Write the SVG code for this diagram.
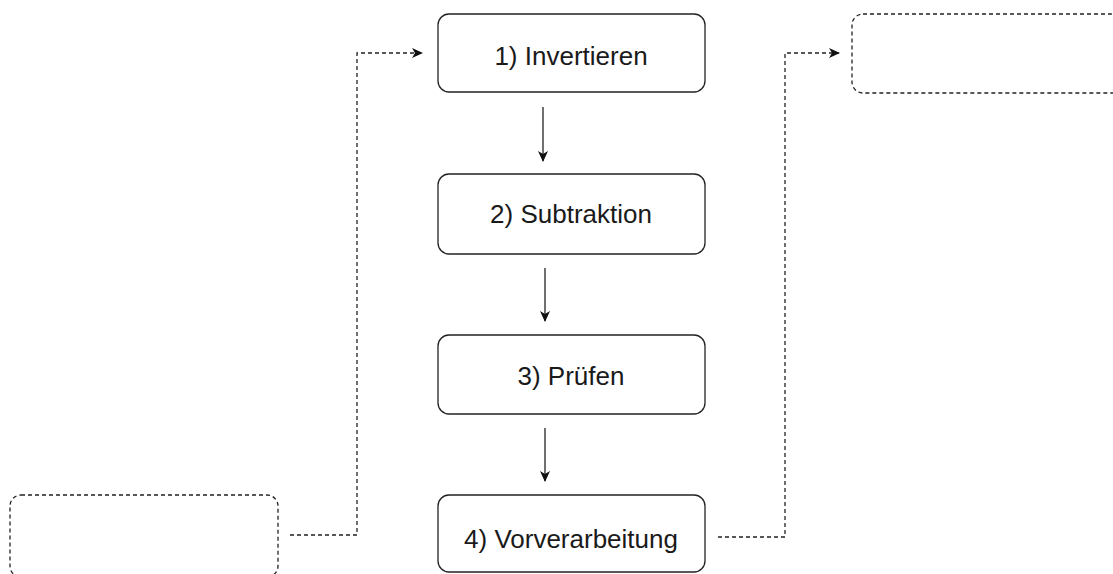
<svg xmlns="http://www.w3.org/2000/svg" width="1113" height="574" viewBox="0 0 1113 574">
<style>
.box{fill:#fff;stroke:#222;stroke-width:1.3}
.dbox{fill:#fff;stroke:#222;stroke-width:1.3;stroke-dasharray:4 3}
.lbl{font-family:"Liberation Sans",Arial,sans-serif;font-size:26px;fill:#1a1a1a;text-anchor:middle}
.arr{fill:none;stroke:#111;stroke-width:1.2}
.darr{fill:none;stroke:#222;stroke-width:1.3;stroke-dasharray:4 3}
</style>
<defs>
<marker id="ah" markerWidth="12" markerHeight="12" refX="10" refY="6" orient="auto" markerUnits="userSpaceOnUse">
<path d="M0,1 L11,6 L0,11 L3,6 Z" fill="#111"/>
</marker>
</defs>
<rect width="1113" height="574" fill="#fff"/>
<g id="connectors">
<line class="arr" x1="543" y1="107" x2="543" y2="161" marker-end="url(#ah)"/>
<line class="arr" x1="545" y1="268" x2="545" y2="321" marker-end="url(#ah)"/>
<line class="arr" x1="545" y1="428" x2="545" y2="481" marker-end="url(#ah)"/>
<polyline class="darr" points="290,535 357,535 357,53 422,53" marker-end="url(#ah)"/>
<polyline class="darr" points="718,537 785,537 785,53 839,53" marker-end="url(#ah)"/>
</g>
<g id="n1"><rect class="box" x="438" y="14" width="267" height="78" rx="11"/><text class="lbl" x="571" y="65">1) Invertieren</text></g>
<g id="n2"><rect class="box" x="438" y="174" width="267" height="80" rx="11"/><text class="lbl" x="571" y="223">2) Subtraktion</text></g>
<g id="n3"><rect class="box" x="438" y="335" width="267" height="79" rx="11"/><text class="lbl" x="571" y="385">3) Prüfen</text></g>
<g id="n4"><rect class="box" x="438" y="495" width="267" height="77" rx="11"/><text class="lbl" x="571" y="548">4) Vorverarbeitung</text></g>
<g id="left"><rect class="dbox" x="10" y="495" width="268" height="82" rx="11"/></g>
<g id="right"><rect class="dbox" x="852" y="14" width="270" height="79" rx="11"/></g>
</svg>
